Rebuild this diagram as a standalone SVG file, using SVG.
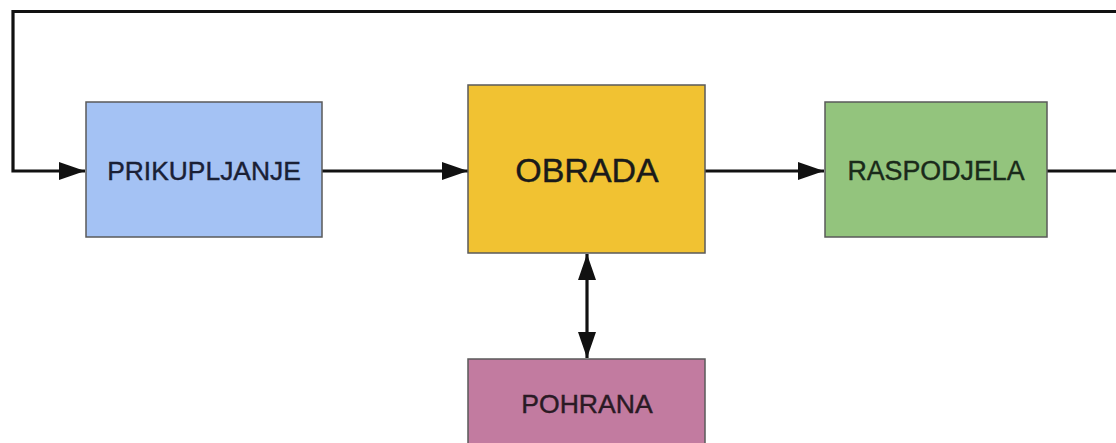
<svg xmlns="http://www.w3.org/2000/svg" width="1116" height="443" viewBox="0 0 1116 443">
<style>
.box{stroke:#5a5a5a;stroke-width:1.5}
.lbl{font-family:"Liberation Sans",Arial,sans-serif;text-anchor:middle;stroke-width:0.4}
.conn{fill:none;stroke:#111;stroke-width:3.2}
</style>
<defs>
<marker id="ah" markerUnits="userSpaceOnUse" markerWidth="26" markerHeight="20" viewBox="0 0 26 20" refX="26" refY="10" orient="auto-start-reverse">
<path d="M0,1 L26,10 L0,19 Z" fill="#111"/>
</marker>
</defs>
<rect width="1116" height="443" fill="#ffffff"/>
<g id="connectors">
<path class="conn" d="M1047,171 H1120"/>
<path class="conn" d="M1120,11.5 H13 V171 H85" marker-end="url(#ah)"/>
<path class="conn" d="M322,171 H468" marker-end="url(#ah)"/>
<path class="conn" d="M705,171 H824" marker-end="url(#ah)"/>
<path class="conn" d="M587,254 V358" marker-start="url(#ah)" marker-end="url(#ah)"/>
</g>
<g id="prikupljanje">
<rect class="box" x="86" y="102" width="236" height="135" fill="#a4c2f4"/>
<text class="lbl" x="204" y="180" font-size="26.4" fill="#1a2035" stroke="#1a2035">PRIKUPLJANJE</text>
</g>
<g id="obrada">
<rect class="box" x="468" y="85" width="237" height="168" fill="#f1c232"/>
<text class="lbl" x="587" y="182" font-size="34" fill="#1a1a1a" stroke="#1a1a1a">OBRADA</text>
</g>
<g id="raspodjela">
<rect class="box" x="825" y="102" width="222" height="135" fill="#93c47d"/>
<text class="lbl" x="936" y="180" font-size="26.8" fill="#1a2a1a" stroke="#1a2a1a">RASPODJELA</text>
</g>
<g id="pohrana">
<rect class="box" x="468" y="359" width="237" height="100" fill="#c27ba0"/>
<text class="lbl" x="587" y="413" font-size="26.6" fill="#2a1a24" stroke="#2a1a24">POHRANA</text>
</g>
</svg>
